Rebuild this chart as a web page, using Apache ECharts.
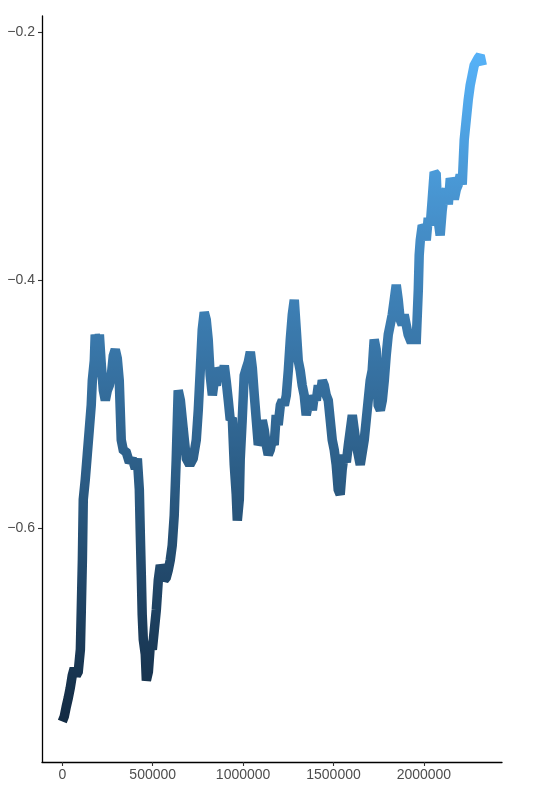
<!DOCTYPE html>
<html>
<head>
<meta charset="utf-8">
<script src="https://cdn.jsdelivr.net/npm/echarts@6/dist/echarts.min.js"></script>
<style>
html,body{margin:0;padding:0;background:#fff;}
#chart{width:546px;height:794px;}
</style>
</head>
<body>
<div id="chart"></div>
<script>
var xValues = [0,11000,22000,33000,44000,55000,66000,77000,88000,100000,105000,111000,116000,127000,138000,149000,160000,166000,177000,182000,194000,205000,216000,227000,238000,249000,260000,271000,282000,293000,304000,315000,326000,337000,354000,371000,387000,404000,415000,426000,431000,437000,442000,448000,459000,465000,476000,487000,498000,509000,520000,531000,542000,553000,564000,575000,586000,597000,608000,619000,630000,641000,653000,664000,675000,686000,697000,713000,724000,741000,752000,763000,774000,785000,796000,807000,818000,830000,841000,852000,863000,874000,885000,896000,907000,918000,929000,940000,951000,962000,968000,979000,984000,995000,1006000,1018000,1029000,1040000,1051000,1062000,1073000,1084000,1095000,1106000,1117000,1128000,1139000,1150000,1161000,1172000,1183000,1194000,1206000,1217000,1228000,1239000,1250000,1261000,1272000,1283000,1294000,1305000,1316000,1327000,1338000,1349000,1360000,1371000,1383000,1394000,1405000,1416000,1427000,1438000,1449000,1460000,1471000,1482000,1493000,1504000,1515000,1526000,1537000,1548000,1559000,1571000,1582000,1593000,1604000,1615000,1626000,1637000,1648000,1659000,1670000,1681000,1692000,1703000,1714000,1725000,1736000,1747000,1759000,1770000,1781000,1792000,1803000,1814000,1825000,1836000,1847000,1858000,1869000,1880000,1891000,1902000,1913000,1924000,1941000,1958000,1969000,1974000,1980000,1991000,2002000,2013000,2024000,2035000,2046000,2057000,2068000,2079000,2090000,2101000,2112000,2124000,2135000,2146000,2157000,2168000,2179000,2190000,2201000,2212000,2223000,2234000,2245000,2256000,2267000,2278000,2289000,2300000,2311000,2323000];
var yValues = [-0.756,-0.752,-0.744,-0.737,-0.729,-0.719,-0.713,-0.719,-0.716,-0.698,-0.666,-0.626,-0.577,-0.561,-0.541,-0.521,-0.501,-0.481,-0.465,-0.444,-0.452,-0.444,-0.469,-0.489,-0.497,-0.489,-0.485,-0.477,-0.461,-0.456,-0.463,-0.481,-0.529,-0.537,-0.539,-0.547,-0.544,-0.552,-0.544,-0.569,-0.602,-0.638,-0.670,-0.690,-0.702,-0.723,-0.716,-0.694,-0.698,-0.682,-0.666,-0.642,-0.630,-0.634,-0.642,-0.640,-0.634,-0.626,-0.614,-0.590,-0.545,-0.489,-0.497,-0.513,-0.529,-0.544,-0.547,-0.547,-0.544,-0.529,-0.505,-0.473,-0.440,-0.426,-0.432,-0.448,-0.477,-0.493,-0.481,-0.485,-0.471,-0.474,-0.479,-0.469,-0.482,-0.497,-0.513,-0.511,-0.549,-0.573,-0.594,-0.577,-0.545,-0.513,-0.477,-0.471,-0.466,-0.458,-0.471,-0.493,-0.513,-0.533,-0.529,-0.513,-0.521,-0.533,-0.541,-0.537,-0.529,-0.533,-0.509,-0.517,-0.501,-0.497,-0.501,-0.493,-0.473,-0.448,-0.428,-0.416,-0.440,-0.465,-0.473,-0.485,-0.493,-0.509,-0.501,-0.493,-0.505,-0.493,-0.497,-0.485,-0.493,-0.481,-0.485,-0.493,-0.497,-0.513,-0.529,-0.537,-0.549,-0.569,-0.573,-0.553,-0.541,-0.547,-0.533,-0.521,-0.509,-0.521,-0.533,-0.541,-0.549,-0.539,-0.529,-0.513,-0.497,-0.481,-0.473,-0.448,-0.456,-0.501,-0.505,-0.497,-0.481,-0.460,-0.444,-0.436,-0.428,-0.416,-0.404,-0.416,-0.432,-0.436,-0.428,-0.436,-0.444,-0.448,-0.448,-0.448,-0.408,-0.380,-0.368,-0.356,-0.358,-0.368,-0.350,-0.356,-0.335,-0.313,-0.315,-0.352,-0.364,-0.344,-0.331,-0.327,-0.339,-0.318,-0.323,-0.335,-0.327,-0.323,-0.315,-0.323,-0.287,-0.271,-0.255,-0.243,-0.235,-0.227,-0.224,-0.221,-0.219,-0.227];
var xTicks = [0, 500000, 1000000, 1500000, 2000000];
var yTicks = [-0.6, -0.4, -0.2];
var colorRange = ['#132B43', '#56B1F7'];

var points = xValues.map(function (x, i) { return [x, yValues[i]]; });
var yMin = Math.min.apply(null, yValues), yMax = Math.max.apply(null, yValues);

var chart = echarts.init(document.getElementById('chart'), null, {renderer: 'canvas'});
var labelStyle = {color: '#4D4D4D', fontSize: 14, fontFamily: 'Liberation Sans, Arial, sans-serif'};
chart.setOption({
  animation: false,
  backgroundColor: '#fff',
  grid: {left: 42, right: 44, top: 16, bottom: 32, containLabel: false},
  xAxis: {
    type: 'value', min: -112300, max: 2432000,
    axisLine: {show: true, onZero: false, lineStyle: {color: '#000', width: 1.3}},
    axisTick: {show: true, length: 4, lineStyle: {color: '#333', width: 1.1}, customValues: xTicks},
    axisLabel: Object.assign({margin: 6, customValues: xTicks, formatter: function (v) { return String(v); }}, labelStyle),
    splitLine: {show: false}
  },
  yAxis: {
    type: 'value', min: -0.7887, max: -0.1871,
    axisLine: {show: true, onZero: false, lineStyle: {color: '#000', width: 1.3}},
    axisTick: {show: true, length: 4, lineStyle: {color: '#333', width: 1.1}, customValues: yTicks},
    axisLabel: Object.assign({margin: 7, customValues: yTicks, formatter: function (v) { return v.toFixed(1).replace('-', '\u2212'); }}, labelStyle),
    splitLine: {show: false}
  },
  visualMap: {
    show: false, type: 'continuous', dimension: 1, seriesIndex: 0,
    min: yMin, max: yMax, inRange: {color: colorRange}
  },
  series: [{
    type: 'line', data: points, showSymbol: false, symbol: 'none',
    lineStyle: {width: 9.5, cap: 'butt', join: 'miter', miterLimit: 2}
  }]
});
</script>
</body>
</html>
